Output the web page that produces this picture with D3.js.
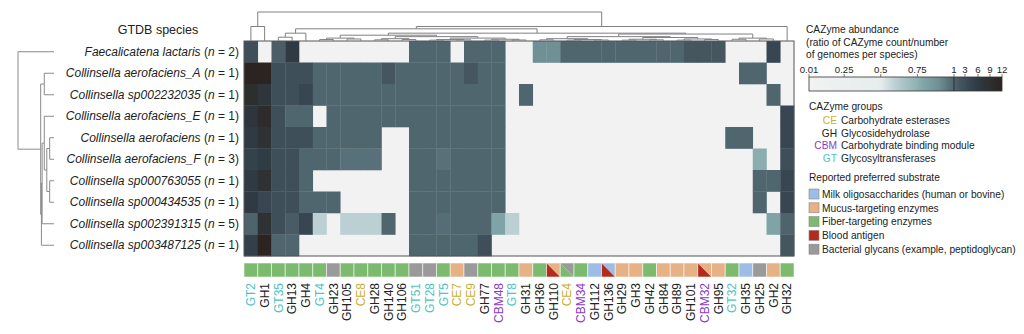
<!DOCTYPE html>
<html><head><meta charset="utf-8">
<script src="https://cdn.jsdelivr.net/npm/d3@7"></script>
<style>body{margin:0;background:#fff}svg{display:block;font-family:"Liberation Sans",Arial,Helvetica,sans-serif}</style>
</head><body><svg id="c" width="1024" height="334"></svg>
<script>
// ---------------- DATA ----------------
const species = ["Faecalicatena lactaris","Collinsella aerofaciens_A","Collinsella sp002232035","Collinsella aerofaciens_E","Collinsella aerofaciens","Collinsella aerofaciens_F","Collinsella sp000763055","Collinsella sp000434535","Collinsella sp002391315","Collinsella sp003487125"];
const speciesN = [2,1,1,1,1,3,1,1,5,1];
const cazymes = ["GT2","GH1","GT35","GH13","GH4","GT4","GH23","GH105","CE8","GH28","GH140","GH106","GT51","GT28","GT5","CE7","CE9","GH77","CBM48","GT8","GH31","GH36","GH110","CE4","CBM34","GH112","GH136","GH29","GH3","GH42","GH84","GH89","GH101","CBM32","GH95","GT32","GH35","GH25","GH2","GH32"];
const substrates = ["fiber","fiber","fiber","fiber","fiber","fiber","bact","fiber","fiber","fiber","fiber","fiber","bact","bact","fiber","mucus","bact","fiber","fiber","fiber","mucus","fiber","blood|mucus","fiber|bact","fiber","milk","blood|milk","mucus","mucus","fiber","mucus","mucus","mucus","blood|mucus","mucus","fiber","milk","bact","mucus","fiber"];
const row0 = [3,0,1.5,6,0,0,0,0,0,0,0,0,1,1,1,0,1,1,1,0,0,0.9,0.9,1,1,1,1,1,1,1,1,1,2,2,2,0,0,0,4,0];
const row1 = [12,12,3,3,3,1,1,1,1,1,2,1,1,1,1,1,2,1,1,0,0,0,0,0,0,0,0,0,0,0,0,0,0,0,0,0,1,1,0,0];
const row2 = [9,7,3,3,4,1,1,1,1,1,1,1,1,1,1,1,1,1,1,0,1,0,0,0,0,0,0,0,0,0,0,0,0,0,0,0,0,0,1,0];
const row3 = [7,10,3,1,1,0,1,1,1,1,1,1,1,1,1,1,1,1,1,0,0,0,0,0,0,0,0,0,0,0,0,0,0,0,0,0,0,0,0,4];
const row4 = [6,8,3,3,3,1,1,1,1,1,0,0,1,1,1,1,1,1,1,0,0,0,0,0,0,0,0,0,0,0,0,0,0,0,0,1,1,0,0,4];
const row5 = [4.67,5.67,3,3,1,1,1,0.97,0.97,0.97,0,0,1,1,0.97,1,1,1,1,0,0,0,0,0,0,0,0,0,0,0,0,0,0,0,0,0,0,0.76,0,3];
const row6 = [6,8,3,3,1,0,0,0,0,0,0,0,1,1,1,1,1,1,1,0,0,0,0,0,0,0,0,0,0,0,0,0,0,0,0,0,0,1,1,4];
const row7 = [6,4,3,3,1,1,1,0,0,0,0,0,1,1,1,1,1,1,1,0,0,0,0,0,0,0,0,0,0,0,0,0,0,0,0,0,0,1,0,4];
const row8 = [1.2,8,3,1.6,4,0.6,0,0.6,0.6,0.6,1,0,1,1,0.98,1,1,1,0.8,0.6,0,0,0,0,0,0,0,0,0,0,0,0,0,0,0,0,0,0,0.8,1.2];
const row9 = [5,12,1,1,0,0,0,0,0,0,0,0,1,1,1,1,1,3,0,0,0,0,0,0,0,0,0,0,0,0,0,0,0,0,0,0,0,0,0,2];
const abundance = [row0,row1,row2,row3,row4,row5,row6,row7,row8,row9];
// dendrograms: leaf = index, node = [height, left, right]
const rowTree = [1.0, 0, [0.37, [0.27, 1, 2], [0.35, [0.33, [0.27, 3, [0.20, [0.12, 4, 5], [0.12, 6, 7]]], 8], 9]]];
const colF = [0.2, [0.1,[0.05,5,6],[0.07,7,8]], [0.15,[0.08,[0.04,9,10],[0.05,11,12]], [0.1,[0.05,[0.03,13,14],[0.04,15,16]],[0.06,[0.03,17,18],[0.035,19,20]]]]];
const colGL = [0.15, [0.08,[0.04,21,22],[0.05,[0.03,23,24],[0.035,25,26]]], [0.12,[0.06,[0.03,27,28],[0.04,29,30]],[0.07,[0.03,31,32],[0.05,33,34]]]];
const colGR = [0.1, [0.06,35,36], [0.07,37,38]];
const colTree = [1.0, [0.5,0,1], [0.5, [0.42, [0.27,[0.13,2,3],4], [0.27, colF, [0.24, colGL, colGR]]], 39]];
const legendTicks = [0.01,0.25,0.5,0.75,1,3,6,9,12];
const groupLegend = [["CE","Carbohydrate esterases"],["GH","Glycosidehydrolase"],["CBM","Carbohydrate binding module"],["GT","Glycosyltransferases"]];
const substrateLegend = [["milk","Milk oligosaccharides (human or bovine)"],["mucus","Mucus-targeting enzymes"],["fiber","Fiber-targeting enzymes"],["blood","Blood antigen"],["bact","Bacterial glycans (example, peptidoglycan)"]];

// ---------------- STYLE ----------------
const groupColor = {CE:"#c8b034", GH:"#222222", CBM:"#8a3cc6", GT:"#4fc3c3"};
const subColor = {milk:"#9dbde6", mucus:"#e6b184", fiber:"#7cba6e", blood:"#b42a1c", bact:"#9a9a9a"};
const color = d3.scaleLinear()
  .domain([0,0.5,0.6,0.75,0.8,0.9,0.97,1,2,3,4,6,8,12])
  .range(["#f2f2f2","#e6ecec","#bccfd2","#8fb0b2","#7fa3a6","#6f9094","#577079","#50666f","#45565f","#3e4f59","#374651","#2f3a42","#2e3234","#2b2421"])
  .clamp(true);
const groupOf = s => s.match(/^[A-Z]+?(?=\d)/)[0];

const svg = d3.select("#c");
const x = d3.scaleBand().domain(d3.range(cazymes.length)).range([244,794]);
const y = d3.scaleBand().domain(d3.range(species.length)).range([41,256]);

// heatmap
const hm = svg.append("g");
hm.append("rect").attr("x",244).attr("y",41).attr("width",550).attr("height",215).attr("fill","#f2f2f2");
abundance.forEach((row,i)=>{
  hm.selectAll(null).data(row.map((v,j)=>({v,j}))).enter().filter(d=>d.v>0)
    .append("rect").attr("x",d=>x(d.j)).attr("y",y(i)).attr("width",x.bandwidth()+0.3).attr("height",y.bandwidth()+0.3)
    .attr("fill",d=>color(d.v));
});
hm.append("rect").attr("x",244).attr("y",41).attr("width",550).attr("height",215).attr("fill","none").attr("stroke","#555").attr("stroke-width",1);

// substrate bar
const sb = svg.append("g");
const sy0=263, sy1=277;
substrates.forEach((s,j)=>{
  const x0=x(j), x1=x(j)+x.bandwidth();
  const parts=s.split("|");
  if(parts.length===1){
    sb.append("rect").attr("x",x0).attr("y",sy0).attr("width",x1-x0).attr("height",sy1-sy0).attr("fill",subColor[s]);
  } else {
    sb.append("path").attr("d",`M${x0},${sy0}L${x0},${sy1}L${x1},${sy1}Z`).attr("fill",subColor[parts[0]]);
    sb.append("path").attr("d",`M${x0},${sy0}L${x1},${sy0}L${x1},${sy1}Z`).attr("fill",subColor[parts[1]]);
  }
  sb.append("rect").attr("x",x0).attr("y",sy0).attr("width",x1-x0).attr("height",sy1-sy0).attr("fill","none").attr("stroke","rgba(255,255,255,0.55)").attr("stroke-width",1);
});

// column labels
svg.append("g").selectAll("text").data(cazymes).enter().append("text")
  .attr("transform",(d,j)=>`translate(${x(j)+x.bandwidth()/2},283) rotate(-90)`)
  .attr("text-anchor","end").attr("dy","0.35em").attr("font-size",12)
  .attr("fill",d=>groupColor[groupOf(d)]).text(d=>d);

// row labels
const rl = svg.append("g").attr("font-size",12).attr("fill","#222");
species.forEach((s,i)=>{
  const t = rl.append("text").attr("x",239).attr("y",y(i)+y.bandwidth()/2).attr("dy","0.35em").attr("text-anchor","end");
  t.append("tspan").attr("font-style","italic").text(s);
  t.append("tspan").text(" (");
  t.append("tspan").attr("font-style","italic").text("n");
  t.append("tspan").text(` = ${speciesN[i]})`);
});
svg.append("text").attr("x",158).attr("y",34).attr("text-anchor","middle").attr("font-size",12.5).attr("fill","#222").text("GTDB species");

// dendrograms
function build(t,pos){
  if(typeof t==="number") return {pos:pos(t),h:0};
  const l=build(t[1],pos), r=build(t[2],pos);
  return {pos:(l.pos+r.pos)/2,h:t[0],kids:[l,r]};
}
function nodes(n,out=[]){ if(n.kids){out.push(n); n.kids.forEach(k=>nodes(k,out));} return out; }
const colRoot = build(colTree, j=>x(j)+x.bandwidth()/2);
const hy = d3.scaleLinear().domain([0,1]).range([41,12]);
svg.append("g").selectAll("path").data(nodes(colRoot)).enter().append("path")
  .attr("d",n=>{const [l,r]=n.kids; return `M${l.pos},${hy(l.h)}V${hy(n.h)}H${r.pos}V${hy(r.h)}`;})
  .attr("fill","none").attr("stroke","#808080").attr("stroke-width",1);
const rowRoot = build(rowTree, i=>y(i)+y.bandwidth()/2);
const hx = d3.scaleLinear().domain([0,1]).range([54,18]);
svg.append("g").selectAll("path").data(nodes(rowRoot)).enter().append("path")
  .attr("d",n=>{const [l,r]=n.kids; return `M${hx(l.h)},${l.pos}H${hx(n.h)}V${r.pos}H${hx(r.h)}`;})
  .attr("fill","none").attr("stroke","#8a8a8a").attr("stroke-width",1);

// legend: abundance
const lg = svg.append("g").attr("font-size",10.2).attr("fill","#222");
lg.append("text").attr("x",806).attr("y",33).text("CAZyme abundance");
lg.append("text").attr("x",806).attr("y",46).text("(ratio of CAZyme count/number");
lg.append("text").attr("x",806).attr("y",58).text("of genomes per species)");
const lx = d3.scaleLinear().domain([0.01,1,3,6,9,12]).range([809,954,965,978,990,1002]);
const grad = svg.append("defs").append("linearGradient").attr("id","g1").attr("x1","0%").attr("x2","100%");
d3.range(0,1.0001,0.01).forEach(f=>{
  const v = lx.invert(809+f*(1002-809));
  grad.append("stop").attr("offset",(f*100)+"%").attr("stop-color",color(v));
});
lg.append("rect").attr("x",809).attr("y",77).attr("width",193).attr("height",14).attr("fill","url(#g1)").attr("stroke","#333").attr("stroke-width",0.8);
lg.append("line").attr("x1",lx(1)).attr("x2",lx(1)).attr("y1",77).attr("y2",91).attr("stroke","#222").attr("stroke-width",0.8);
lg.selectAll(".tk").data(legendTicks).enter().append("line")
  .attr("x1",d=>lx(d)).attr("x2",d=>lx(d)).attr("y1",74).attr("y2",77).attr("stroke","#555").attr("stroke-width",0.8);
lg.selectAll(".tl").data(legendTicks).enter().append("text")
  .attr("x",d=>lx(d)).attr("y",72.5).attr("text-anchor","middle").attr("font-size",9.6).text(d=>d);

// legend: groups
lg.append("text").attr("x",809).attr("y",110).text("CAZyme groups");
groupLegend.forEach((g,i)=>{
  const yy = 124+i*12.6;
  lg.append("text").attr("x",837).attr("y",yy).attr("text-anchor","end").attr("fill",groupColor[g[0]]).text(g[0]);
  lg.append("text").attr("x",841).attr("y",yy).text(g[1]);
});
// legend: substrate
lg.append("text").attr("x",809).attr("y",181).text("Reported preferred substrate");
substrateLegend.forEach((s,i)=>{
  const yy = 194+i*13.8;
  lg.append("rect").attr("x",809).attr("y",yy-5).attr("width",10).attr("height",10).attr("fill",subColor[s[0]]).attr("stroke","#888").attr("stroke-width",0.6);
  lg.append("text").attr("x",822).attr("y",yy+3.8).attr("font-size",10.2).text(s[1]);
});
</script></body></html>
